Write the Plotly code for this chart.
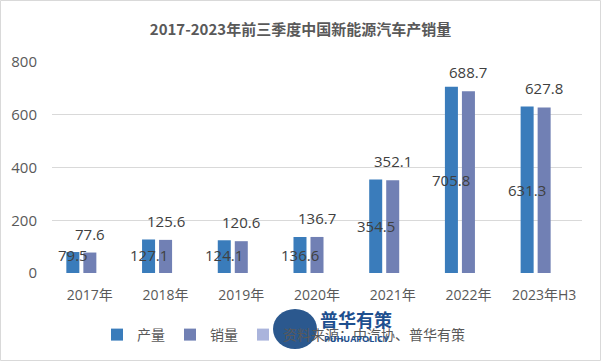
import plotly.graph_objects as go

categories = ["2017年", "2018年", "2019年", "2020年", "2021年", "2022年", "2023年H3"]
production = [79.5, 127.1, 124.1, 136.6, 354.5, 705.8, 631.3]
sales = [77.6, 125.6, 120.6, 136.7, 352.1, 688.7, 627.8]
source_values = [None] * len(categories)  # empty series in the original (source note)
y_ticks = [0, 200, 400, 600, 800]

title = "2017-2023年前三季度中国新能源汽车产销量"
source_label = "资料来源：中汽协、普华有策"

FONT = "Open Sans, Noto Sans CJK SC, sans-serif"
C_PROD = "#3a7cbb"
C_SALE = "#7180b4"
C_SRC = "#aab4dc"

fig = go.Figure()
fig.add_trace(go.Bar(name="产量", x=categories, y=production, marker=dict(color=C_PROD, line=dict(width=0))))
fig.add_trace(go.Bar(name="销量", x=categories, y=sales, marker=dict(color=C_SALE, line=dict(width=0))))
fig.add_trace(go.Bar(name=source_label, x=categories, y=source_values, marker=dict(color=C_SRC, line=dict(width=0))))

ann = []
for i, c in enumerate(categories):
    p = production[i]
    ann.append(dict(x=c, y=max(p / 2, 68), xref="x", yref="y", text=f"{p}", showarrow=False,
                    xshift=-17, yanchor="middle", font=dict(size=15, color="#404040", family=FONT)))
    s = sales[i]
    ann.append(dict(x=c, y=s, xref="x", yref="y", text=f"{s}", showarrow=False, yanchor="middle",
                    xshift=0, yshift=19, font=dict(size=15, color="#404040", family=FONT)))

W, H = 601, 361
ml, mr, mt, mb = 52, 19, 62, 88
pw, ph = W - ml - mr, H - mt - mb


def py(pix):
    return (H - mb - pix) / ph


def px(pix):
    return (pix - ml) / pw


# watermark
ann.append(dict(x=px(356), y=py(319), xref="paper", yref="paper", text="<b>普华有策</b>", showarrow=False,
                font=dict(size=18, color="#1d4f8f", family="Noto Sans CJK SC"), xanchor="center", yanchor="middle"))
ann.append(dict(x=px(356), y=py(338), xref="paper", yref="paper", text="<b>PUHUAPOLICY</b>", showarrow=False,
                font=dict(size=9, color="#1d4f8f", family=FONT), xanchor="center", yanchor="middle"))

shapes = [
    dict(type="rect", xref="paper", yref="paper",
         x0=px(0.5), x1=px(W - 0.5), y0=py(H - 0.5), y1=py(0.5),
         line=dict(color="#d9d9d9", width=1), fillcolor="rgba(0,0,0,0)", layer="below"),
    dict(type="circle", xref="paper", yref="paper",
         x0=px(273), x1=px(317), y0=py(349), y1=py(309),
         line=dict(width=0), fillcolor="rgba(20,70,130,0.9)", layer="below"),
]

fig.update_layout(
    width=W, height=H,
    margin=dict(l=ml, r=mr, t=mt, b=mb, autoexpand=False),
    paper_bgcolor="white", plot_bgcolor="white",
    title=dict(text=f"<b>{title}</b>", x=0.5, xanchor="center", y=1 - 30 / H, yanchor="middle",
               font=dict(size=15, color="#595959", family="Noto Sans CJK SC")),
    barmode="group", bargap=0.326, bargroupgap=0.235,
    font=dict(family=FONT, color="#595959"),
    xaxis=dict(range=[-0.5, 6.5], showgrid=False, showline=False, ticks="", ticklabelstandoff=12,
               tickfont=dict(size=14, color="#595959", family=FONT)),
    yaxis=dict(range=[0, 800], tickvals=y_ticks, showgrid=True, gridcolor="#d9d9d9", gridwidth=1,
               zeroline=False, showline=False, ticks="", ticklabelstandoff=14,
               tickfont=dict(size=15, color="#595959", family=FONT)),
    legend=dict(orientation="h", x=px(97), xanchor="left", y=py(335), yanchor="middle",
                font=dict(size=14, color="#595959", family="Noto Sans CJK SC"),
                itemwidth=30, tracegroupgap=0, bgcolor="rgba(0,0,0,0)"),
    annotations=ann, shapes=shapes,
)

fig.write_html("out.html", config={"displayModeBar": False},
               post_script="document.body.style.margin='0';")
